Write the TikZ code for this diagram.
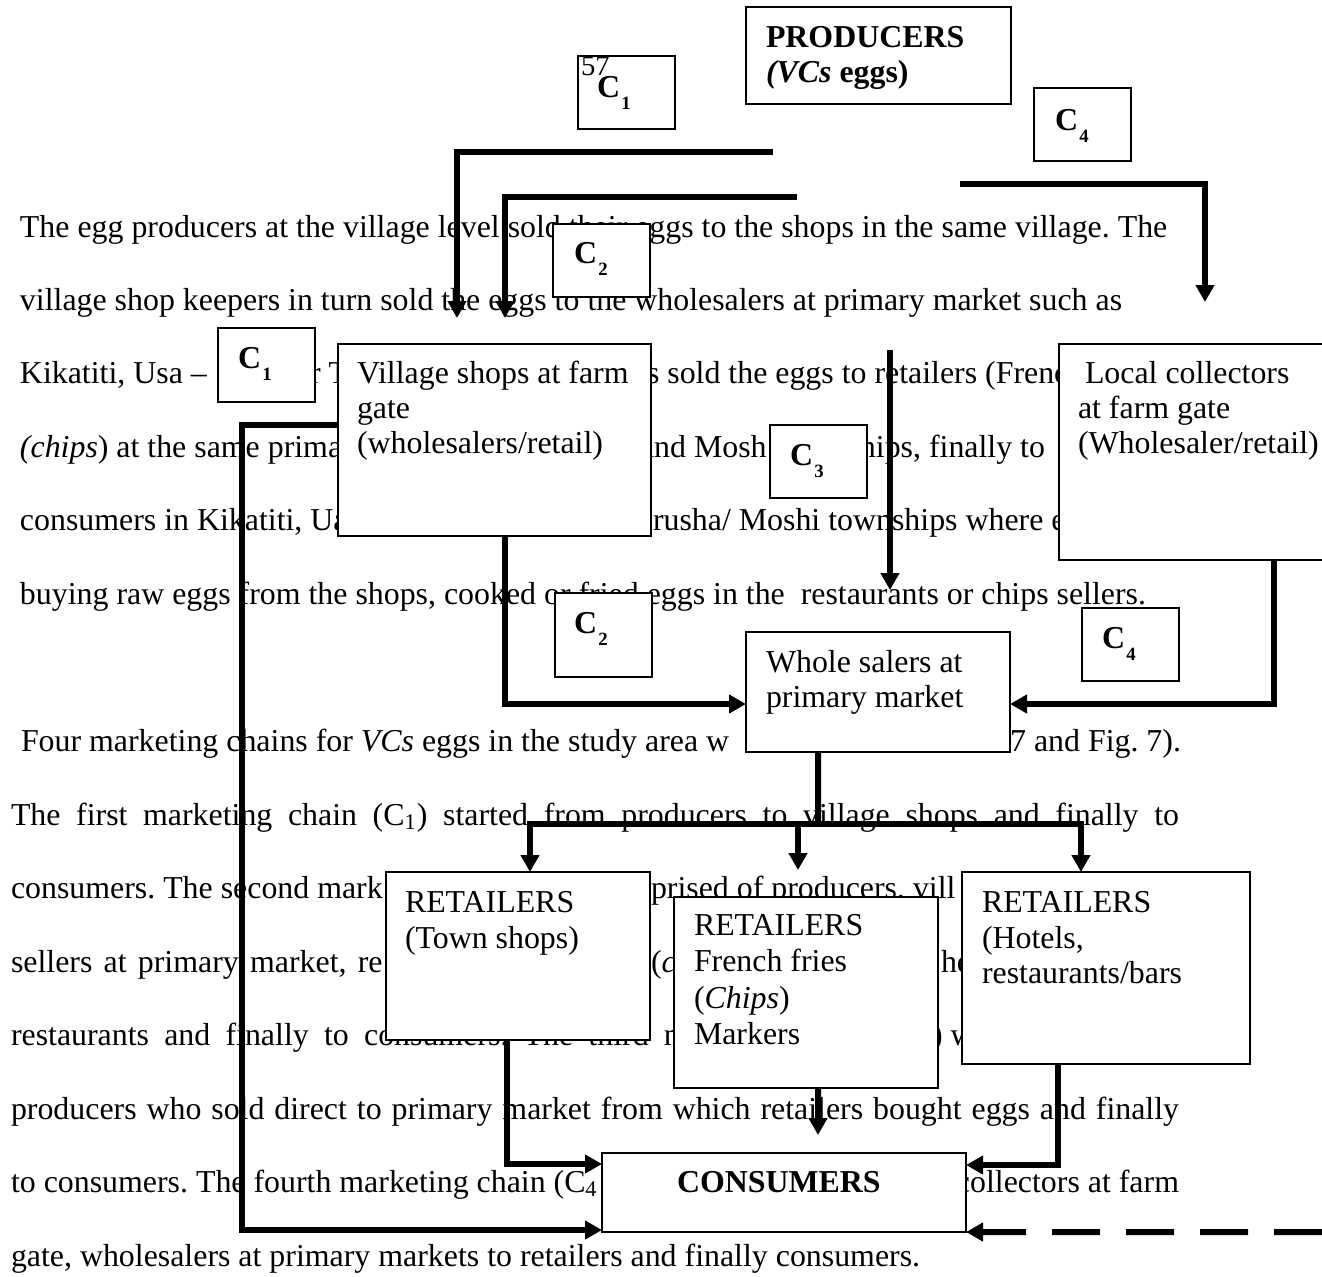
\documentclass[tikz,border=0pt]{standalone}
\usepackage{fontspec}
\setmainfont{Liberation Serif}
\usetikzlibrary{arrows.meta}
% subscripted chain label such as C1
\newcommand\chainlbl[1]{C\kern0.5pt\raisebox{-4.8pt}{\fontsize{7.5}{8}\selectfont #1}}
\frenchspacing
\begin{document}
\begin{tikzpicture}[x=0.4pt,y=-0.4pt,
  txt/.style={inner sep=0pt,outer sep=0pt,anchor=base west,font=\fontsize{12.75}{14}\selectfont},
  txtr/.style={txt,anchor=base east},
  frame/.style={draw,line width=0.8pt,fill=white,inner sep=0pt,outer sep=0pt,anchor=north west},
  cframe/.style={frame,minimum width=38.6pt,minimum height=29pt},
  chain/.style={txt,font=\fontsize{12.75}{14}\selectfont\bfseries},
  flow/.style={line width=2.4pt,line join=miter,-{Triangle[length=6.8pt,width=7.2pt]}},
  bar/.style={line width=2.4pt,line join=miter},
]
\useasboundingbox (0,0) rectangle (1322,1276);

% ---------- running text of the page ----------
\node[txt] (t0) at (20,237) {The egg producers at the village level sold their eggs to the shops in the same village. The};
\node[txt] (t1) at (20,310) {village shop keepers in turn sold the eggs to the wholesalers at primary market such as};
\node[txt] (t2a) at (20,383) {Kikatiti, Usa –};
\node[txt] (t2b) at (310,383) {r T};
\node[txt] (t2c) at (647,383) {s sold the eggs to retailers (Frenc};
\node[txt] (t3a) at (20,457) {\textit{(chips}) at the same prima};
\node[txt] (t3b) at (640,457) {and Mosh};
\node[txtr] (t3c) at (1045,457) {hips, finally to};
\node[txt] (t4a) at (20,530) {consumers in Kikatiti, Ua};
\node[txt] (t4b) at (653,530) {rusha/ Moshi townships where e};
\node[txt] (t5) at (20,604) {buying raw eggs from the shops, cooked or fried eggs in the\ \ restaurants or chips sellers.};
\node[txt] (t7a) at (21,751) {Four marketing chains for \textit{VCs} eggs in the study area w};
\node[txtr] (t7b) at (1181,751) {7 and Fig. 7).};
\node[txt] (t8) at (11,825) {\makebox[467.2pt][s]{The first marketing chain (C\textsubscript{1}) started from producers to village shops and finally to}};
\node[txt] (t9a) at (11,898) {consumers. The second mark};
\node[txt] (t9b) at (651,898) {prised of producers, vill};
\node[txt] (t10a) at (11,972) {\spaceskip=4.5pt\relax sellers at primary market, re};
\node[txt] (t10b) at (651,972) {(\textit{c}};
\node[txt] (t10c) at (941,972) {he};
\node[txt] (t11a) at (11,1045) {\spaceskip=6.1pt\relax restaurants and finally to consumers. The third m};
\node[txt] (t11b) at (932,1045) {) w};
\node[txt] (t12) at (11,1119) {\makebox[467.2pt][s]{producers who sold direct to primary market from which retailers bought eggs and finally}};
\node[txt] (t13a) at (11,1192) {to consumers. The fourth marketing chain (C\textsubscript{4}};
\node[txtr] (t13b) at (1179,1192) {collectors at farm};
\node[txt] (t14) at (11,1266) {gate, wholesalers at primary markets to retailers and finally consumers.};

% ---------- boxes ----------
\node[frame,minimum width=106pt,minimum height=38.8pt] (producers) at (746,7) {};
\node[cframe] (c1top) at (578,56) {};
\node[cframe] (c4top) at (1034,88) {};
\node[cframe] (c2top) at (553,224) {};
\node[cframe,minimum height=29.6pt] (c1left) at (218,328) {};
\node[frame,minimum width=125.2pt,minimum height=76.8pt] (village) at (338,344) {};
\node[frame,minimum width=110pt,minimum height=86.4pt] (local) at (1059,344) {};
\node[cframe] (c3) at (770,425) {};
\node[cframe,minimum height=33.6pt] (c2low) at (555,593) {};
\node[cframe] (c4low) at (1082,608) {};
\node[frame,minimum width=105.6pt,minimum height=48pt] (wholesalers) at (746,632) {};
\node[frame,minimum width=105.6pt,minimum height=67.2pt] (town) at (386,872) {};
\node[frame,minimum width=105.6pt,minimum height=76.4pt] (french) at (674,897) {};
\node[frame,minimum width=115.2pt,minimum height=76.8pt] (hotels) at (962,872) {};
\node[frame,minimum width=145.6pt,minimum height=31.6pt] (consumers) at (602,1153) {};

% ---------- box labels ----------
\node[chain] (lp1) at (766,47) {PRODUCERS};
\node[chain] (lp2) at (766,82) {\textit{(VCs} eggs)};
\node[txt,font=\fontsize{11.5}{12}\selectfont] (pg) at (581,75) {57};
\node[chain] (lc1top) at (597,97) {\chainlbl{1}};
\node[chain] (lc4top) at (1055,130) {\chainlbl{4}};
\node[chain] (lc2top) at (574,263) {\chainlbl{2}};
\node[chain] (lc1left) at (238,368) {\chainlbl{1}};
\node[chain] (lc3) at (790,465) {\chainlbl{3}};
\node[chain] (lc2low) at (574,633) {\chainlbl{2}};
\node[chain] (lc4low) at (1102,648) {\chainlbl{4}};

\node[txt] (lv1) at (357,383) {Village shops at farm};
\node[txt] (lv2) at (357,418) {gate};
\node[txt] (lv3) at (357,453) {(wholesalers/retail)};
\node[txt] (ll1) at (1085,383) {Local collectors};
\node[txt] (ll2) at (1078,418) {at farm gate};
\node[txt] (ll3) at (1078,453) {(Wholesaler/retail)};
\node[txt] (lw1) at (766,672) {Whole salers at};
\node[txt] (lw2) at (766,707) {primary market};
\node[txt] (lt1) at (405,912) {RETAILERS};
\node[txt] (lt2) at (405,948) {(Town shops)};
\node[txt] (lf1) at (694,935) {RETAILERS};
\node[txt] (lf2) at (694,971.5) {French fries};
\node[txt] (lf3) at (694,1008) {(\textit{Chips})};
\node[txt] (lf4) at (694,1044.5) {Markers};
\node[txt] (lh1) at (982,912) {RETAILERS};
\node[txt] (lh2) at (982,948) {(Hotels,};
\node[txt] (lh3) at (982,983) {restaurants/bars};
\node[chain] (lcons) at (677,1192) {CONSUMERS};

% ---------- connector ends ----------
\coordinate (a1) at (773,152);  \coordinate (a1t) at (457,318);
\coordinate (a2) at (797,197);  \coordinate (a2t) at (505,318);
\coordinate (a4) at (960,184);  \coordinate (a4t) at (1205,302);
\coordinate (a3) at (890,350);  \coordinate (a3t) at (890,590);
\coordinate (vw) at (338,425);  \coordinate (k1) at (242,1230);
\coordinate (bw) at (818,824);
\coordinate (bl) at (530,824);  \coordinate (br) at (1081,824);
\coordinate (bm) at (798,824);  \coordinate (bmt) at (798,870);
\coordinate (ft) at (818,1135);
\coordinate (dash0) at (1322,1232);

% ---------- connectors ----------
\draw[flow] (a1) -| (a1t);
\draw[flow] (a2) -| (a2t);
\draw[flow] (a4) -| (a4t);
\draw[flow] (a3) -- (a3t);
\draw[flow] (vw) -| (k1) -- (consumers.west |- k1);
\draw[flow] (a2t |- village.south) |- ([yshift=-4.8pt]wholesalers.west);
\draw[flow] ([xshift=86pt]local.south west) |- ([yshift=-4.8pt]wholesalers.east);
\draw[bar] ([xshift=-24pt]wholesalers.south) -- (bw);
\draw[flow] (br) -| ([xshift=57.6pt]town.north west);
\draw[flow] (bl) -| ([xshift=47.6pt]hotels.north west);
\draw[flow] (bm) -- (bmt);
\draw[flow] ([xshift=48.4pt]town.south west) |- ([yshift=11.4pt]consumers.west);
\draw[flow] ([xshift=4.8pt]french.south) -- (ft);
\draw[flow] ([xshift=38.4pt]hotels.south west) |- ([yshift=11pt]consumers.east);
\draw[flow,dash pattern=on 19.2pt off 10.4pt] (dash0) -- (consumers.south east);
\end{tikzpicture}
\end{document}
